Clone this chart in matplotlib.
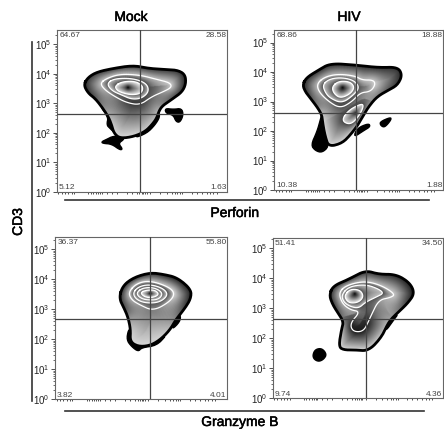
import matplotlib
matplotlib.use("Agg")
import matplotlib.pyplot as plt
import matplotlib.patheffects as pe
import numpy as np
from matplotlib.patches import Polygon
from matplotlib.lines import Line2D

plt.rcParams["font.family"] = ["Liberation Sans", "DejaVu Sans"]
plt.rcParams["mathtext.default"] = "regular"

titles = ["Mock", "HIV"]
decades = [0, 1, 2, 3, 4, 5]

# corner percentages: top left, top right, bottom left, bottom right
a_pct = ["64.67", "28.58", "5.12", "1.63"]
b_pct = ["68.86", "18.88", "10.38", "1.88"]
c_pct = ["36.37", "55.80", "3.82", "4.01"]
d_pct = ["51.41", "34.50", "9.74", "4.36"]

# ticks on the x axis (channels)
x_ticks = [4, 14, 24, 34, 44, 51, 94, 101, 109, 117, 123, 129, 134, 149, 164, 179,
           209, 224, 239, 247, 254, 259, 264, 269, 279, 309, 329, 344, 354, 361, 369, 375,
           404, 419, 434, 449, 459, 469, 479]

# Mock / Perforin
a_out_x = [80, 92, 119, 169, 229, 274, 319, 361, 384, 387, 376, 349, 319, 307, 299, 284, 264, 229, 189, 171, 164, 154, 134, 114, 94]
a_out_y = [320, 342, 359, 370, 379, 370, 367, 365, 352, 325, 300, 280, 260, 245, 220, 200, 180, 165, 160, 175, 200, 225, 255, 280, 295]
a_out_s = [.15, .2, .2, .2, .2, .2, .2, .2, .15, .15, .2, .3, .5, .7, .75, .8, .8, .85, .85, .85, .8, .7, .5, .3, .2]
a_c1_x = [129, 149, 189, 249, 299, 339, 344, 319, 284, 249, 209, 174, 144]
a_c1_y = [325, 340, 353, 350, 337, 327, 313, 300, 285, 260, 267, 285, 305]
a_c1_s = [.75, .75, .75, .75, .75, .8, .8, .6, .4, .2, .25, .5, .7]
a_c2_x = [149, 174, 229, 269, 276, 254, 224, 194, 164]
a_c2_y = [325, 340, 340, 325, 300, 280, 277, 290, 303]
a_c3_x = [174, 194, 234, 259, 254, 224, 194, 179]
a_c3_y = [317, 330, 332, 317, 295, 290, 297, 305]
a_peak = [214, 313]
a_blob1_x = [324, 349, 374, 379, 369, 357, 349, 327]
a_blob1_y = [250, 247, 250, 230, 208, 210, 230, 235]
a_blob2_x = [134, 149, 169, 199, 201, 184, 197, 189, 164, 137]
a_blob2_y = [150, 157, 167, 165, 157, 145, 128, 125, 143, 145]
a_blob3_x = [129, 154, 169, 174, 159, 149, 154]
a_blob3_y = [257, 245, 220, 175, 190, 200, 225]
a_blob4_x = [304, 309, 294, 269, 229, 269, 284]
a_blob4_y = [240, 225, 200, 175, 160, 190, 210]

# HIV / Perforin
b_out_x = [85, 96, 133, 168, 243, 313, 370, 384, 370, 343, 308, 283, 268, 253, 228, 203, 163, 153, 146, 143, 128, 108, 93]
b_out_y = [315, 337, 360, 380, 375, 367, 369, 345, 315, 300, 280, 250, 225, 198, 165, 140, 130, 160, 195, 225, 250, 275, 295]
b_out_s = [.15, .2, .2, .2, .2, .2, .2, .15, .2, .3, .5, .65, .75, .8, .85, .85, .85, .85, .85, .8, .5, .3, .2]
b_c1_x = [128, 153, 193, 243, 263, 298, 303, 288, 258, 233, 198, 163, 133]
b_c1_y = [320, 340, 348, 342, 330, 330, 315, 295, 292, 265, 245, 265, 295]
b_c1_s = [.75, .75, .75, .75, .75, .8, .8, .65, .5, .35, .3, .5, .7]
b_c2_x = [145, 163, 198, 238, 256, 238, 203, 168, 153]
b_c2_y = [315, 332, 338, 330, 308, 285, 260, 275, 292]
b_c3_x = [173, 193, 228, 241, 228, 198, 178]
b_c3_y = [310, 327, 325, 308, 288, 275, 290]
b_peak = [205, 308]
b_lens_x = [201, 223, 263, 268, 253, 228]
b_lens_y = [208, 240, 260, 250, 220, 195]
b_lens_s = [.25, .25, .25, .25, .25, .25]
b_lens_peak = [243, 230]
b_blob1_x = [143, 153, 158, 163, 143, 123, 110, 128, 138]
b_blob1_y = [230, 195, 160, 130, 112, 118, 135, 175, 210]
b_blob2_x = [248, 283, 288, 268, 238]
b_blob2_y = [185, 200, 190, 178, 158]
b_blob3_x = [318, 348, 351, 338, 328, 318]
b_blob3_y = [205, 218, 212, 195, 188, 195]

# Mock / Granzyme B
c_out_x = [191, 202, 234, 284, 324, 366, 407, 407, 389, 364, 344, 314, 284, 249, 224, 226, 219, 209]
c_out_y = [303, 340, 365, 380, 375, 365, 330, 303, 273, 243, 208, 178, 161, 158, 173, 208, 243, 268]
c_out_s = [.2, .2, .2, .2, .15, .1, .1, .1, .2, .5, .75, .85, .85, .85, .85, .8, .6, .3]
c_c1_x = [219, 244, 284, 339, 359, 344, 294, 254, 229]
c_c1_y = [321, 348, 356, 338, 318, 293, 265, 283, 298]
c_c1_s = [.8, .8, .8, .8, .85, .7, .45, .6, .7]
c_c2_x = [232, 249, 284, 324, 339, 314, 274, 244]
c_c2_y = [318, 338, 345, 333, 313, 291, 288, 298]
c_c3_x = [244, 264, 299, 324, 309, 269, 249]
c_c3_y = [321, 335, 335, 318, 298, 298, 308]
c_c4_x = [254, 274, 299, 312, 294, 269]
c_c4_y = [320, 328, 328, 315, 305, 306]
c_peak = [284, 318]
c_blob1_x = [219, 214, 229, 249, 259, 304, 334, 314, 284, 249, 229, 226]
c_blob1_y = [208, 178, 158, 143, 155, 161, 193, 178, 163, 158, 173, 208]
c_blob2_x = [359, 376, 374, 349, 359]
c_blob2_y = [258, 253, 233, 208, 238]

# HIV / Granzyme B
d_out_x = [170, 181, 228, 278, 318, 370, 411, 426, 405, 373, 348, 328, 288, 248, 213, 198, 206, 213, 193, 178]
d_out_y = [310, 337, 357, 384, 372, 372, 347, 315, 285, 255, 230, 185, 142, 145, 145, 155, 205, 230, 260, 285]
d_out_s = [.2, .2, .2, .2, .2, .15, .1, .1, .2, .5, .7, .8, .85, .85, .85, .85, .75, .5, .3, .2]
d_c1_x = [198, 223, 278, 328, 368, 353, 318, 296, 288, 272, 240, 232, 263, 233, 208]
d_c1_y = [318, 340, 352, 338, 312, 302, 295, 250, 232, 200, 200, 225, 260, 265, 285]
d_c1_s = [.75, .75, .75, .75, .8, .75, .6, .35, .15, .1, .1, .15, .5, .65, .75]
d_c2_x = [206, 228, 278, 318, 333, 313, 278, 258, 233, 213]
d_c2_y = [310, 335, 342, 328, 315, 305, 288, 270, 275, 288]
d_c3_x = [216, 233, 263, 273, 258, 233, 220]
d_c3_y = [310, 328, 325, 305, 288, 285, 295]
d_peak = [246, 312]
d_blob1_x = [120, 128, 148, 162, 153, 138, 124]
d_blob1_y = [130, 147, 150, 132, 117, 110, 117]
d_blob2_x = [343, 378, 363, 338]
d_blob2_y = [225, 255, 235, 200]


def smooth(vals, n=3):
    # corner cutting on a closed curve
    v = np.asarray(vals, dtype=float)
    for i in range(n):
        w = np.roll(v, -1)
        v = np.ravel(np.column_stack([0.75 * v + 0.25 * w, 0.25 * v + 0.75 * w]))
    return v


def curve(x, y, s):
    s = [s] * len(x) if np.isscalar(s) else s
    if len(x) == 1:
        return np.array(x, float), np.array(y, float), np.array(s, float)
    return smooth(x), smooth(y), smooth(s)


def zone(ax, outer, inner):
    # band between one contour and the next ones in, shade blended by distance
    xo, yo, so = curve(*outer)
    parts = [curve(*c) for c in inner]
    xi = np.concatenate([p[0] for p in parts])
    yi = np.concatenate([p[1] for p in parts])
    si = np.concatenate([p[2] for p in parts])
    gx = np.arange(xo.min() - 1, xo.max() + 2, 1.5)
    gy = np.arange(yo.min() - 1, yo.max() + 2, 1.5)
    X, Y = np.meshgrid(gx, gy)
    do = np.hypot(X[..., None] - xo, Y[..., None] - yo)
    di = np.hypot(X[..., None] - xi, Y[..., None] - yi)
    a = do.min(axis=2)
    b = di.min(axis=2)
    t = a / (a + b + 1e-6)
    shade = so[do.argmin(axis=2)] * (1 - t) + si[di.argmin(axis=2)] * t
    im = ax.imshow(shade, cmap="gray", vmin=0, vmax=1, origin="lower", aspect="auto",
                   interpolation="bilinear", zorder=2,
                   extent=(gx[0], gx[-1], gy[0], gy[-1]))
    im.set_clip_path(Polygon(np.column_stack([xo, yo]), transform=ax.transData))


def closed(x):
    return np.r_[x, x[0]]


def panel(rect, lim, dec, pct, out, contours, peak, blobs, cross, lens=None):
    fx, fy = rect[0] / 444, 1 - rect[1] / 429
    ax = fig.add_axes([fx, fy, lim[0] / 3 / 444, lim[1] / 3 / 429])
    ax.set_xlim(0, lim[0])
    ax.set_ylim(0, lim[1])
    ax.autoscale(False)
    for b in blobs:
        ax.fill(smooth(b[0], 2), smooth(b[1], 2), facecolor="black", edgecolor="black", lw=1, zorder=1)
    xo, yo = smooth(out[0]), smooth(out[1])
    first = [contours[0]]
    if lens is not None:
        first.append((lens[0], lens[1], lens[2]))
    zone(ax, out, first)
    for k in range(len(contours) - 1):
        xa, ya = contours[k][:2]
        xb, yb = contours[k + 1][:2]
        sa = contours[k][2] if k == 0 else 0.75
        zone(ax, (xa, ya, sa), [(xb, yb, 0.3)])
    xa, ya = contours[-1][:2]
    zone(ax, (xa, ya, 0.92), [([peak[0]], [peak[1]], 0.0)])
    if lens is not None:
        zone(ax, (lens[0], lens[1], 0.85), [([lens[3][0]], [lens[3][1]], 0.1)])
        ax.plot(closed(smooth(lens[0])), closed(smooth(lens[1])), color="white", lw=0.9, zorder=3)
    for c in contours:
        ax.plot(closed(smooth(c[0])), closed(smooth(c[1])), color="white", lw=0.9, zorder=3)
    ax.plot(closed(xo), closed(yo), color="black", lw=2, zorder=3)
    ax.axvline(cross[0], color="#444444", lw=0.9, zorder=4)
    ax.axhline(cross[1], color="#444444", lw=0.9, zorder=4)

    ax.set_xticks(x_ticks)
    ax.set_xticklabels([])
    ax.tick_params(axis="x", length=1.5, width=0.6, color="#333333", pad=0)
    ax.set_yticks([d * dec for d in decades])
    ax.set_yticklabels(["$10^{%d}$" % d for d in decades], fontsize=7, color="#222222")
    ax.set_yticks([(d + np.log10(k)) * dec for d in decades[:-1] for k in range(2, 10)]
                  + [(5 + np.log10(k)) * dec for k in (2, 3)], minor=True)
    ax.set_xlim(0, lim[0])
    ax.set_ylim(0, lim[1])
    ax.tick_params(axis="y", which="major", length=3, width=0.6, color="#333333", pad=1)
    ax.tick_params(axis="y", which="minor", length=1.5, width=0.5, color="#333333")
    for s in ax.spines.values():
        s.set_color("#666666")
        s.set_linewidth(0.8)
    txt = dict(fontsize=6, color="#444444", zorder=5)
    ax.text(7, lim[1] - 4, pct[0], va="top", ha="left", **txt)
    ax.text(lim[0] - 1, lim[1] - 4, pct[1], va="top", ha="right", **txt)
    ax.text(5, 2, pct[2], va="bottom", ha="left", **txt)
    ax.text(lim[0] - 1, 2, pct[3], va="bottom", ha="right", **txt)
    return ax


fig = plt.figure(figsize=(4.44, 4.29), dpi=100)

panel((57, 191.7), (510, 484), 88.5, a_pct, (a_out_x, a_out_y, a_out_s),
      [(a_c1_x, a_c1_y, a_c1_s), (a_c2_x, a_c2_y), (a_c3_x, a_c3_y)], a_peak,
      [(a_blob1_x, a_blob1_y), (a_blob2_x, a_blob2_y), (a_blob3_x, a_blob3_y), (a_blob4_x, a_blob4_y)],
      (249, 233))
panel((274.3, 190), (505, 479), 88.5, b_pct, (b_out_x, b_out_y, b_out_s),
      [(b_c1_x, b_c1_y, b_c1_s), (b_c2_x, b_c2_y), (b_c3_x, b_c3_y)], b_peak,
      [(b_blob1_x, b_blob1_y), (b_blob2_x, b_blob2_y), (b_blob3_x, b_blob3_y)],
      (246, 230), lens=(b_lens_x, b_lens_y, b_lens_s, b_lens_peak))
panel((55.3, 399.3), (515, 486), 90, c_pct, (c_out_x, c_out_y, c_out_s),
      [(c_c1_x, c_c1_y, c_c1_s), (c_c2_x, c_c2_y), (c_c3_x, c_c3_y), (c_c4_x, c_c4_y)], c_peak,
      [(c_blob1_x, c_blob1_y), (c_blob2_x, c_blob2_y)],
      (284, 241))
panel((272.7, 398.3), (510, 480), 90, d_pct, (d_out_x, d_out_y, d_out_s),
      [(d_c1_x, d_c1_y, d_c1_s), (d_c2_x, d_c2_y), (d_c3_x, d_c3_y)], d_peak,
      [(d_blob1_x, d_blob1_y), (d_blob2_x, d_blob2_y)],
      (281, 238))

# the reference lettering is a little heavier than the regular weight
heavy = [pe.withStroke(linewidth=0.35, foreground="black")]
lab = dict(fontsize=10, color="black", ha="center", va="center", path_effects=heavy)
fig.text(131 / 444, 1 - 17 / 429, titles[0], **lab)
fig.text(349 / 444, 1 - 17 / 429, titles[1], **lab)
fig.text(235 / 444, 1 - 213 / 429, "Perforin", **lab)
fig.text(240 / 444, 1 - 422 / 429, "Granzyme B", **lab)
fig.text(18 / 444, 1 - 222 / 429, "CD3", rotation=90, **lab)

# guide lines next to the axis titles
for xs, ys in [((32, 32), (42, 401)), ((65, 429), (200, 200)), ((65, 424), (411, 411))]:
    fig.add_artist(Line2D([x / 444 for x in xs], [1 - y / 429 for y in ys], color="#333333", lw=1.2))

fig.savefig("out.png", dpi=100)
